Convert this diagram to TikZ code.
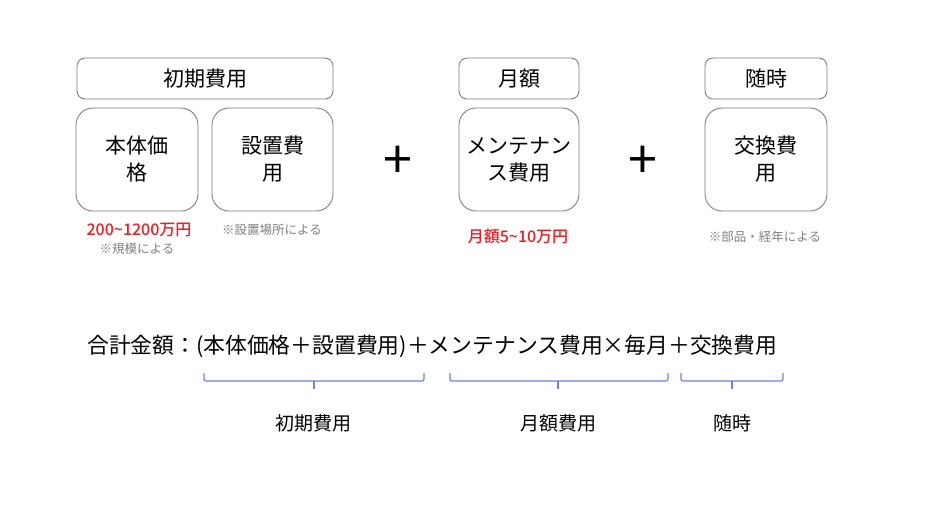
\documentclass[tikz,border=0pt]{standalone}
\usepackage{fontspec}
\setmainfont{Noto Sans CJK JP}
\newfontfamily\jpmed{Noto Sans CJK JP Medium}
\definecolor{boxgray}{RGB}{127,127,127}
\definecolor{notegray}{RGB}{128,128,128}
\definecolor{pricered}{RGB}{235,30,35}
\definecolor{braceblue}{RGB}{112,128,222}
\tikzset{
  hdr/.style={draw=boxgray, line width=0.9pt, rounded corners=8pt, minimum height=41pt, inner sep=0pt, font=\fontsize{21}{25}\selectfont},
  costbox/.style={draw=boxgray, line width=0.9pt, rounded corners=17pt, minimum height=103pt, inner sep=0pt, align=center, font=\fontsize{21}{27}\selectfont},
  plussign/.style={inner sep=0pt, font=\fontsize{52}{52}\selectfont},
  price/.style={inner sep=0pt, text=pricered, font=\fontsize{16}{18}\jpmed},
  note/.style={inner sep=0pt, text=notegray, font=\fontsize{12.5}{15}\selectfont},
  formula/.style={inner sep=0pt, anchor=west, font=\fontsize{21.8}{26}\selectfont},
  bracelabel/.style={inner sep=0pt, font=\fontsize{19}{22}\selectfont},
  bracket/.style={draw=braceblue, line width=1.2pt, rounded corners=2pt}
}
\begin{document}
\begin{tikzpicture}[x=1pt,y=-1pt]
\useasboundingbox[fill=white] (0,0) rectangle (950,504);
% headers
\node[hdr, minimum width=256pt] (h1) at (205,78.5) {初期費用};
\node[hdr, minimum width=120pt] (h2) at (519,78.5) {月額};
\node[hdr, minimum width=122pt] (h3) at (766,78.5) {随時};
% boxes
\node[costbox, minimum width=122pt] (b1) at (137,159.5) {本体価\\格};
\node[costbox, minimum width=121pt] (b2) at (272.5,159.5) {設置費\\用};
\node[costbox, minimum width=120pt] (b3) at (519,159.5) {メンテナン\\ス費用};
\node[costbox, minimum width=122pt] (b4) at (766,159.5) {交換費\\用};
% plus signs
\node[plussign] (p1) at (398,162) {+};
\node[plussign] (p2) at (643,162) {+};
% notes
\node[price] (r1) at (139,230) {200\textasciitilde1200万円};
\node[note] (n1) at (137,249) {※規模による};
\node[note] (n2) at (272,230) {※設置場所による};
\node[price] (r2) at (518,236) {月額5\textasciitilde10万円};
\node[note] (n3) at (765,237) {※部品・経年による};
% formula
\node[formula] (f) at (87,346) {合計金額：(本体価格＋設置費用)＋メンテナンス費用×毎月＋交換費用};
% brackets
\coordinate (k1a) at (204,373); \coordinate (k1b) at (424,373); \coordinate (k1m) at (314,381);
\coordinate (k2a) at (450,373); \coordinate (k2b) at (668,373); \coordinate (k2m) at (558,381);
\coordinate (k3a) at (681,373); \coordinate (k3b) at (783,373); \coordinate (k3m) at (732,381);
\draw[bracket] (k1a) -- ++(0,8) -- ++(220,0) -- (k1b);
\draw[bracket] (k1m) -- ++(0,8);
\draw[bracket] (k2a) -- ++(0,8) -- ++(218,0) -- (k2b);
\draw[bracket] (k2m) -- ++(0,8);
\draw[bracket] (k3a) -- ++(0,8) -- ++(102,0) -- (k3b);
\draw[bracket] (k3m) -- ++(0,8);
% labels
\node[bracelabel] (l1) at (313,423) {初期費用};
\node[bracelabel] (l2) at (558,423) {月額費用};
\node[bracelabel] (l3) at (732,423) {随時};
\end{tikzpicture}
\end{document}
